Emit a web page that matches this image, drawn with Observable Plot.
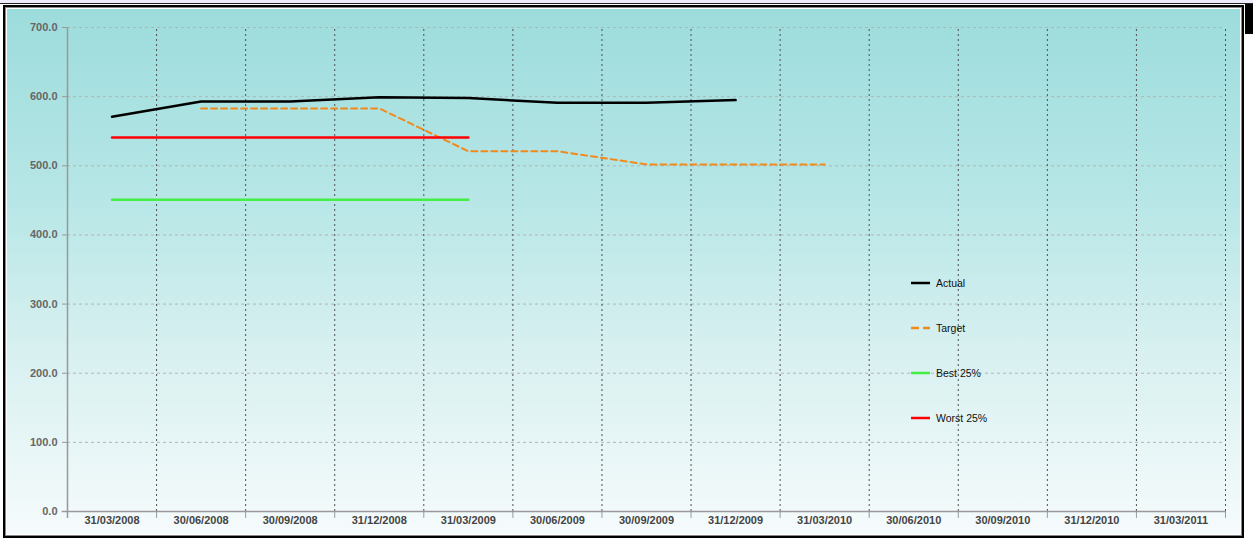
<!DOCTYPE html>
<html>
<head>
<meta charset="utf-8">
<script src="https://cdn.jsdelivr.net/npm/d3@7"></script>
<script src="https://cdn.jsdelivr.net/npm/@observablehq/plot@0.6"></script>
<style>
  html, body { margin: 0; padding: 0; background: #fff; width: 1253px; height: 541px; overflow: hidden; font-family: "Liberation Sans", Arial, sans-serif; }
  #topstrip { position: absolute; left: 0; top: 0; width: 1253px; height: 3px; background: #ececfa; border-bottom: 1px solid #222; }
  #frame { position: absolute; left: 3px; top: 5px; width: 1237px; height: 529px; border: 2px solid #000;
    box-shadow: inset 0 0 0 1px #888, inset 0 0 0 2px #fff;
    background: linear-gradient(to bottom, #9ddcdc 0%, #b6e6e6 35%, #d8f0f0 65%, #f6fbfc 100%); }
  #shadow { position: absolute; left: 1245px; top: 4px; width: 8px; height: 30px; background: #000; }
  #chart { position: absolute; left: 0; top: 0; }
  #legend { position: absolute; left: 911px; top: 276px; font-size: 10.5px; color: #111; }
  .item { position: absolute; left: 0; white-space: nowrap; height: 14px; line-height: 14px; }
  .item svg { position: absolute; left: 0; top: 5px; }
  .item span { position: absolute; left: 25px; top: 0; }
</style>
</head>
<body>
<div id="topstrip"></div>
<div id="frame"></div>
<div id="shadow"></div>
<div id="chart"></div>
<div id="legend"></div>
<script>
const categories = ["31/03/2008","30/06/2008","30/09/2008","31/12/2008","31/03/2009","30/06/2009","30/09/2009","31/12/2009","31/03/2010","30/06/2010","30/09/2010","31/12/2010","31/03/2011"];
const actual = [571, 593, 593, 599, 598, 591, 591, 595, null, null, null, null, null];
const target = [null, 583, 583, 583, 521, 521, 502, 502, 502, null, null, null, null];
const best25 = [451, 451, 451, 451, 451, null, null, null, null, null, null, null, null];
const worst25 = [541, 541, 541, 541, 541, null, null, null, null, null, null, null, null];
const yTicks = [0, 100, 200, 300, 400, 500, 600, 700];

const seriesNames = ["Actual", "Target", "Best 25%", "Worst 25%"];
const seriesColors = ["#000000", "#f28a1a", "#44ee44", "#ff0000"];
const seriesDash = [null, "6,4", null, null];
const seriesData = [actual, target, best25, worst25];
const seriesWidth = [2.5, 2, 2.5, 2.5];

const idx = d3.range(categories.length);
const pts = (arr) => idx.filter(i => arr[i] != null).map(i => ({x: i + 0.5, y: arr[i]}));

const plot = Plot.plot({
  width: 1253,
  height: 541,
  marginLeft: 67,
  marginRight: 28,
  marginTop: 27,
  marginBottom: 30,
  style: { background: "transparent", fontFamily: "Liberation Sans, Arial, sans-serif", overflow: "visible" },
  x: { domain: [0, categories.length], axis: null, label: null },
  y: { domain: [0, 700], axis: null, label: null },
  marks: [
    Plot.ruleY(yTicks.slice(1), { x1: 0, x2: categories.length, stroke: "#b4b4b4", strokeDasharray: "3,3", strokeWidth: 1 }),
    Plot.ruleX(d3.range(1, categories.length + 1), { y1: 0, y2: 700, stroke: "#505050", strokeDasharray: "2,3", strokeWidth: 1 }),
    Plot.ruleX(d3.range(0, categories.length + 1), { y1: -10, y2: 0, stroke: "#999" }),
    Plot.ruleX([0], { y1: -10, y2: 700, stroke: "#999", strokeWidth: 1.5 }),
    Plot.ruleY([0], { x1: -0.06, x2: categories.length, stroke: "#999", strokeWidth: 1.5 }),
    Plot.axisY(yTicks, { label: null, tickSize: 5, tickPadding: 5, stroke: "#999", fill: "#666", fontWeight: "bold", fontSize: 11, tickFormat: d => d.toFixed(1) }),
    Plot.axisX(idx.map(i => i + 0.5), { label: null, tickSize: 0, tickPadding: 5, fill: "#444", fontWeight: "bold", fontSize: 11, letterSpacing: "0.9px", tickFormat: d => categories[Math.floor(d)] }),
    ...seriesData.map((arr, k) => Plot.line(pts(arr), { x: "x", y: "y", stroke: seriesColors[k], strokeWidth: seriesWidth[k], strokeDasharray: seriesDash[k] || undefined, curve: "linear" }))
  ]
});
document.getElementById("chart").appendChild(plot);

const legend = document.getElementById("legend");
seriesNames.forEach((name, k) => {
  const item = document.createElement("div");
  item.className = "item";
  item.style.top = (k * 45) + "px";
  item.innerHTML = `<svg width="20" height="4"><line x1="0" y1="2" x2="19" y2="2" stroke="${seriesColors[k]}" stroke-width="2.5" ${seriesDash[k] ? 'stroke-dasharray="8,4"' : ''}/></svg><span>${name}</span>`;
  legend.appendChild(item);
});
</script>
</body>
</html>
